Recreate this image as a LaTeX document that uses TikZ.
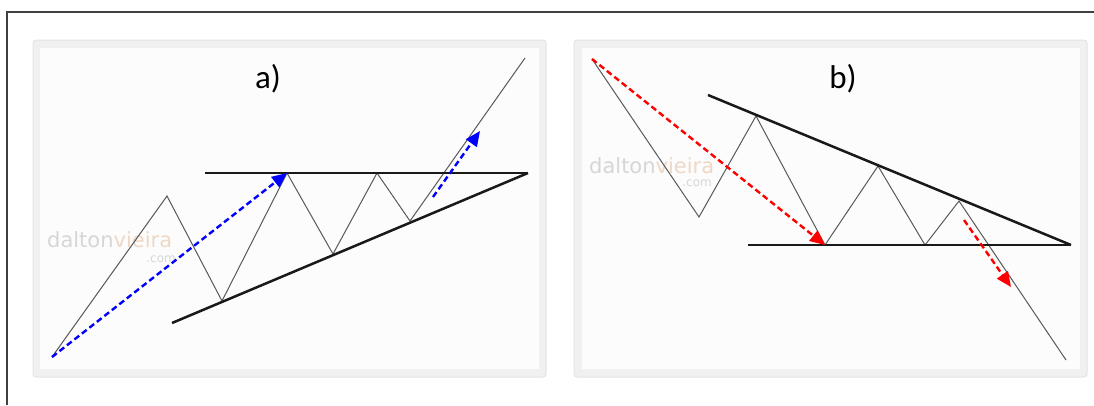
\documentclass[tikz,border=0pt]{standalone}
\usepackage{fontspec}
\setmainfont{Carlito}
\newfontfamily\markfont{DejaVu Sans}
\usetikzlibrary{arrows.meta}
\definecolor{paneledge}{HTML}{E4E4E4}
\definecolor{panelfill}{HTML}{F0F0F0}
\definecolor{panelin}{HTML}{FCFCFC}
\definecolor{markgray}{HTML}{D6D6D6}
\definecolor{marktan}{HTML}{EED8C6}

\begin{document}
\begin{tikzpicture}[x=1pt, y=-1pt,
    panel/.style={fill=panelfill, draw=paneledge, line width=1pt, rounded corners=3pt},
    zig/.style={draw=black!65, line width=1pt, line join=miter},
    trend/.style={draw=black!90, line width=2.5pt},
    move/.style={dash pattern=on 6pt off 3.5pt, line width=2.4pt,
      -{Triangle[length=15pt, width=13pt]}},
    tag/.style={font=\fontsize{33}{33}\selectfont, anchor=base},
    wmark/.style={font=\markfont\fontsize{21}{21}\selectfont, anchor=base west, inner sep=0pt},
    wcom/.style={font=\markfont\fontsize{12}{12}\selectfont, anchor=base east,
      inner sep=0pt, text=markgray}]
  \useasboundingbox (0,0) rectangle (1094,405);
  \fill[white] (0,0) rectangle (1094,405);
  % outer frame
  \draw[black!75, line width=1.3pt] (7,405) -- (7,12) -- (1094,12);
  % panels
  \draw[panel] (33,40) rectangle (546,377);
  \fill[panelin] (40,48) rectangle (539,369);
  \draw[panel] (574,40) rectangle (1087,377);
  \fill[panelin] (582,48) rectangle (1080,369);
  % watermarks
  \node[wmark] (marka) at (47,247) {\textcolor{markgray}{dalton}\textcolor{marktan}{vieira}};
  \node[wcom] (coma) at (176,262) {.com};
  \node[wmark] (markb) at (589,173) {\textcolor{markgray}{dalton}\textcolor{marktan}{vieira}};
  \node[wcom] (comb) at (712,186) {.com};
  % labels
  \node[tag] (taga) at (268,88) {a)};
  \node[tag] (tagb) at (843,88) {b)};

  % a) ascending triangle
  \coordinate (a0) at (52,357);
  \coordinate (a1) at (167,196);
  \coordinate (a2) at (222,301);
  \coordinate (a3) at (287,173);
  \coordinate (a4) at (333,254);
  \coordinate (a5) at (377,173);
  \coordinate (a6) at (410,221);
  \coordinate (a7) at (525,58);
  \coordinate (resa) at (205,173);
  \coordinate (apexa) at (528,173);
  \coordinate (supa) at (172,323);
  \draw[zig] (a0) -- (a1) -- (a2) -- (a3) -- (a4) -- (a5) -- (a6) -- (a7);
  \draw[trend] (resa) -- (apexa);
  \draw[trend] (supa) -- (apexa);
  \coordinate (ua) at (433,197);
  \coordinate (va) at (480,131);
  \draw[move, blue] (a0) -- (a3);
  \draw[move, blue] (ua) -- (va);

  % b) descending triangle
  \coordinate (b0) at (592,59);
  \coordinate (b1) at (699,217);
  \coordinate (b2) at (756,116);
  \coordinate (b3) at (825,245);
  \coordinate (b4) at (878,166);
  \coordinate (b5) at (925,245);
  \coordinate (b6) at (959,201);
  \coordinate (b7) at (1066,360);
  \coordinate (resb) at (708,95);
  \coordinate (apexb) at (1071,245);
  \coordinate (supb) at (748,245);
  \draw[zig] (b0) -- (b1) -- (b2) -- (b3) -- (b4) -- (b5) -- (b6) -- (b7);
  \draw[trend] (resb) -- (apexb);
  \draw[trend] (supb) -- (apexb);
  \coordinate (ub) at (964,220);
  \coordinate (vb) at (1011,287);
  \draw[move, red] (b0) -- (b3);
  \draw[move, red] (ub) -- (vb);
\end{tikzpicture}
\end{document}
